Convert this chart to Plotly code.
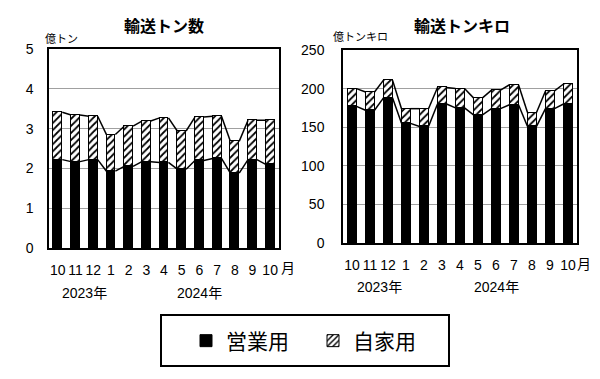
import plotly.graph_objects as go

months = ["10", "11", "12", "1", "2", "3", "4", "5", "6", "7", "8", "9", "10"]
ton_eigyo = [2.22, 2.17, 2.22, 1.93, 2.05, 2.17, 2.15, 1.98, 2.20, 2.25, 1.88, 2.22, 2.10]
ton_jika = [1.19, 1.17, 1.09, 0.92, 1.01, 1.02, 1.12, 0.96, 1.09, 1.06, 0.80, 0.99, 1.11]
tkm_eigyo = [177, 172, 188, 155, 151, 180, 175, 166, 174, 179, 151, 174, 180]
tkm_jika = [23, 23.5, 23, 19, 23, 21.5, 25, 22, 24, 26, 18, 23, 26]
years = ["2023年", "2024年"]
year_pos = [1.5, 8]

W = 0.5
FONT = "Liberation Sans Narrow, Liberation Sans, Arial, Noto Sans CJK JP"
JP = "Noto Sans CJK JP"
x = list(range(len(months)))

fig = go.Figure()

def add_chart(eig, jik, xa, ya, show):
    fig.add_trace(go.Bar(x=x, y=eig, width=W, name="営業用", marker=dict(color="black", line=dict(color="black", width=1)),
                         xaxis=xa, yaxis=ya, showlegend=show, legendgroup="a"))
    fig.add_trace(go.Bar(x=x, y=jik, width=W, name="自家用",
                         marker=dict(color="white", line=dict(color="black", width=1),
                                     pattern=dict(shape="/", fgcolor="black", bgcolor="white", size=5, solidity=0.35)),
                         xaxis=xa, yaxis=ya, showlegend=show, legendgroup="b"))
    tot = [a + b for a, b in zip(eig, jik)]
    for series in (eig, tot):
        lx, ly = [], []
        for i in range(len(series) - 1):
            lx += [i + W / 2, i + 1 - W / 2, None]
            ly += [series[i], series[i + 1], None]
        fig.add_trace(go.Scatter(x=lx, y=ly, mode="lines", line=dict(color="black", width=1.5),
                                 xaxis=xa, yaxis=ya, showlegend=False, hoverinfo="skip"))

add_chart(ton_eigyo, ton_jika, "x", "y", True)
add_chart(tkm_eigyo, tkm_jika, "x2", "y2", False)

H, Wd = 379, 600
def px(v): return v / Wd
def py(v): return 1 - v / H

xcommon = dict(range=[-0.5, 12.5], tickvals=x, ticktext=months, showgrid=False, showline=True, mirror=True,
               linecolor="black", linewidth=1.5, ticks="", tickfont=dict(size=14, color="black", family=FONT),
               ticklabelstandoff=8, zeroline=False, automargin=False)
ycommon = dict(showgrid=True, gridcolor="#a0a0a0", gridwidth=1, showline=True, mirror=True, linecolor="black",
               linewidth=1.5, ticks="", tickfont=dict(size=14, color="black", family=FONT), zeroline=False,
               automargin=False)

fig.update_layout(
    template="none",
    width=600, height=379, margin=dict(l=0, r=0, t=0, b=0, autoexpand=False),
    paper_bgcolor="white", plot_bgcolor="white", barmode="stack", bargap=0,
    font=dict(family=FONT, color="black"),
    xaxis=dict(domain=[px(49), px(279)], anchor="y", **xcommon),
    yaxis=dict(domain=[py(248), py(49)], anchor="x", range=[0, 5], dtick=1, ticklabelstandoff=11, **ycommon),
    xaxis2=dict(domain=[px(343), px(577)], anchor="y2", **xcommon),
    yaxis2=dict(domain=[py(243), py(50)], anchor="x2", range=[0, 250], dtick=50, ticklabelstandoff=14, **ycommon),
    legend=dict(orientation="h", x=px(186), y=py(341), xanchor="left", yanchor="middle",
                font=dict(size=21, family=JP, color="black"), bgcolor="rgba(0,0,0,0)",
                entrywidth=82, entrywidthmode="pixels", traceorder="normal"),
    showlegend=True,
)

fig.add_shape(type="rect", xref="paper", yref="paper", x0=px(161), x1=px(449), y0=py(366), y1=py(315),
              line=dict(color="black", width=2), fillcolor="rgba(0,0,0,0)")

ann = []
ann.append(dict(text="<b>輸送トン数</b>", x=px(164), y=py(25), font=dict(size=16, family=JP)))
ann.append(dict(text="<b>輸送トンキロ</b>", x=px(462), y=py(25), font=dict(size=16, family=JP)))
ann.append(dict(text="億トン", x=px(61), y=py(38), font=dict(size=11, family=JP)))
ann.append(dict(text="億トンキロ", x=px(360), y=py(36), font=dict(size=11, family=JP)))
ann.append(dict(text="月", x=px(288), y=py(267), font=dict(size=14, family=JP)))
ann.append(dict(text="月", x=px(584), y=py(263), font=dict(size=14, family=JP)))
for a in ann:
    a.update(xref="paper", yref="paper", showarrow=False, xanchor="center", yanchor="middle")
    fig.add_annotation(**a)
for xr, yv in (("x", py(293)), ("x2", py(287))):
    for t, p in zip(years, year_pos):
        fig.add_annotation(text=t, x=p, y=yv, xref=xr, yref="paper", showarrow=False,
                           font=dict(size=14, family=FONT), xanchor="center", yanchor="middle")

fig.write_html("out.html", config={"displayModeBar": False},
               post_script="document.body.style.margin='0';")
